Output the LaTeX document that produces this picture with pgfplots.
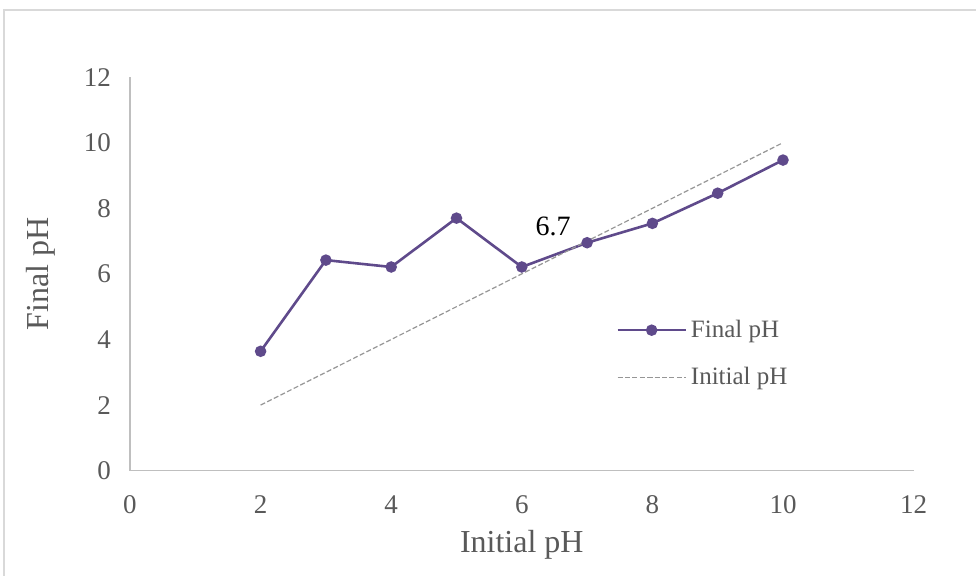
\documentclass[border=0pt]{standalone}
\usepackage{pgfplots}
\pgfplotsset{compat=1.18}
\usepackage{fontspec}
\setmainfont{Liberation Serif}
\definecolor{lineP}{RGB}{95,74,139}
\definecolor{tickG}{RGB}{89,89,89}
\definecolor{axG}{RGB}{191,191,191}
\definecolor{brd}{RGB}{217,217,217}
\definecolor{dashG}{RGB}{150,150,150}
\begin{document}
\begin{tikzpicture}
\path[use as bounding box] (0,0) rectangle (488pt,288pt);
\draw[brd, line width=0.8pt] (2pt,-20pt) rectangle (520pt,283pt);
\begin{axis}[
  at={(65pt,52.65pt)}, anchor=south west,
  scale only axis, width=391.8pt, height=196.8pt,
  xmin=0, xmax=12, ymin=0, ymax=12,
  xtick={0,2,...,12}, ytick={0,2,...,12},
  axis x line*=bottom, axis y line*=left,
  axis line style={axG, line width=0.8pt, -},
  major tick length=0pt,
  tick label style={tickG, font=\fontsize{13.5}{16}\selectfont},
  /pgf/number format/assume math mode=true,
  xticklabel style={yshift=-9pt},
  yticklabel style={xshift=-6pt},
  xlabel={Initial pH}, ylabel={Final pH},
  label style={tickG, font=\fontsize{16}{19}\selectfont},
  xlabel style={at={(axis description cs:0.5,-0.1887)}, anchor=center},
  ylabel style={at={(axis description cs:-0.1143,0.5)}, anchor=center},
  legend cell align=left,
  legend style={draw=none, fill=none, at={(axis cs:7.35,4.85)}, anchor=north west,
    font=\fontsize{12.5}{15}\selectfont, text=tickG, row sep=9.5pt,
    /tikz/every even column/.append style={column sep=2pt}},
  legend image code/.code={\draw[mark repeat=2,mark phase=2,#1] plot coordinates {(0pt,0pt) (17pt,0pt) (34pt,0pt)};},
  clip=false,
]
\addplot[lineP, line width=1.3pt, mark=*, mark size=2.2pt, mark options={fill=lineP, draw=lineP}]
  coordinates {(2,3.64) (3,6.42) (4,6.21) (5,7.70) (6,6.21) (7,6.95) (8,7.54) (9,8.46) (10,9.47)};
\addlegendentry{Final pH}
\addplot[dashG, line width=0.6pt, dash pattern=on 2.5pt off 1.2pt]
  coordinates {(2,2) (10,10)};
\addlegendentry{Initial pH}
\node[font=\fontsize{14}{17}\selectfont, text=black] at (axis cs:6.48,7.46) {6.7};
\end{axis}
\end{tikzpicture}
\end{document}
